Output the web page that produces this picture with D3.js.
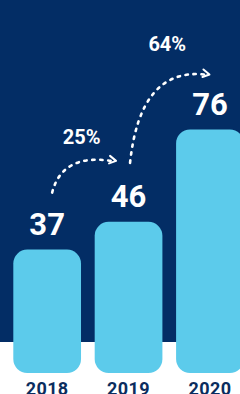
<!DOCTYPE html>
<html>
<head>
<meta charset="utf-8">
<script src="https://cdn.jsdelivr.net/npm/d3@7"></script>
<style>
  html, body { margin: 0; padding: 0; background: #fff; }
  svg { display: block; font-family: Roboto, "Open Sans", sans-serif; }
</style>
</head>
<body>
<div id="chart-area"><svg></svg></div>
<script>
const YEARS = ["2018", "2019", "2020"];
const VALUES = [37, 46, 76];
const GROWTH = ["25%", "64%"];

const CHART_SIZE = { width: 240, height: 394 };
const NAVY = "#032d65";
const BLUE = "#5ccbeb";
const PANEL_HEIGHT = 342;
const BAR_BOTTOM = 373;
const RADIUS = 14;

const x = d3.scaleBand()
  .domain(YEARS)
  .range([13.3, 243.8])
  .paddingInner(0.168)
  .paddingOuter(0);

const y = d3.scaleLinear()
  .domain([0, 76])
  .range([363.5, 129.5]);

const cx = i => x(YEARS[i]) + x.bandwidth() / 2;

const svg = d3.select("#chart-area svg")
  .attr("width", CHART_SIZE.width)
  .attr("height", CHART_SIZE.height);

svg.append("rect")
  .attr("width", CHART_SIZE.width)
  .attr("height", PANEL_HEIGHT)
  .attr("fill", NAVY);

// bars
svg.append("g")
  .selectAll("rect")
  .data(VALUES)
  .join("rect")
  .attr("x", (d, i) => x(YEARS[i]))
  .attr("y", d => y(d))
  .attr("width", x.bandwidth())
  .attr("height", d => BAR_BOTTOM - y(d))
  .attr("rx", RADIUS)
  .attr("fill", BLUE);

// value labels
svg.append("g")
  .selectAll("text")
  .data(VALUES)
  .join("text")
  .attr("x", (d, i) => cx(i))
  .attr("y", d => y(d) - 14.5)
  .attr("text-anchor", "middle")
  .attr("fill", "#fff")
  .attr("font-size", 31)
  .attr("font-weight", 700)
  .text(d => d);

// year labels (cut by the bottom edge, as in the original)
svg.append("g")
  .selectAll("text")
  .data(YEARS)
  .join("text")
  .attr("x", (d, i) => cx(i))
  .attr("y", 394.5)
  .attr("text-anchor", "middle")
  .attr("fill", "#0b2d5e")
  .attr("font-size", 18)
  .attr("font-weight", 700)
  .attr("letter-spacing", 0.4)
  .text(d => d);

// growth arrows between consecutive bars
const ARROW = [
  { sx: 5, sy: -57, cx: 15, cy: -96, ex: -13.5, ey: -61, ly: -17 },
  { sx: 1.5, sy: -59, cx: 11.5, cy: -154, ex: -1.5, ey: -55, ly: -24 }
];

const arrows = svg.append("g");
GROWTH.forEach((label, i) => {
  const a = ARROW[i];
  const s = [cx(i) + a.sx, y(VALUES[i]) + a.sy];
  const c = [cx(i) + a.cx, y(VALUES[i]) + a.cy];
  const e = [cx(i + 1) + a.ex, y(VALUES[i + 1]) + a.ey];
  const p = d3.path();
  p.moveTo(s[0], s[1]);
  p.quadraticCurveTo(c[0], c[1], e[0] - 4, e[1]);
  arrows.append("path")
    .attr("d", p.toString())
    .attr("fill", "none")
    .attr("stroke", "#fff")
    .attr("stroke-width", 2.6)
    .attr("stroke-linecap", "round")
    .attr("stroke-dasharray", "2.4 5.6");
  arrows.append("path")
    .attr("d", `M${e[0] - 5},${e[1] - 5}L${e[0] + 1},${e[1]}L${e[0] - 6},${e[1] + 2.5}`)
    .attr("fill", "none")
    .attr("stroke", "#fff")
    .attr("stroke-width", 2)
    .attr("stroke-linecap", "round")
    .attr("stroke-linejoin", "round");
  arrows.append("text")
    .attr("x", (s[0] + e[0]) / 2 - 2)
    .attr("y", e[1] + a.ly)
    .attr("text-anchor", "middle")
    .attr("fill", "#fff")
    .attr("font-size", 20)
    .attr("font-weight", 700)
    .text(label);
});
</script>
</body>
</html>
